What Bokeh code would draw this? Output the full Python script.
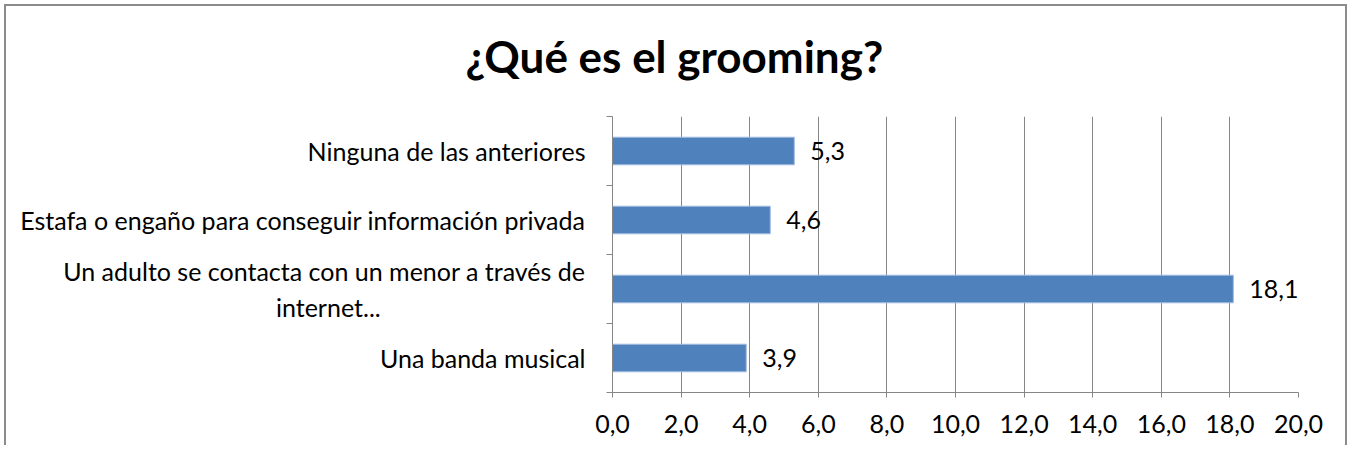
from bokeh.plotting import figure
from bokeh.models import Range1d, FixedTicker, ColumnDataSource, Title
from bokeh.core.properties import value
from bokeh.embed import file_html
from bokeh.resources import INLINE

title_text = "¿Qué es el grooming?"
# categories listed from top to bottom
categories = [
    "Ninguna de las anteriores",
    "Estafa o engaño para conseguir información privada",
    "Un adulto se contacta con un menor a través de\ninternet..." + "\u00a0" * 32,
    "Una banda musical",
]
values = [5.3, 4.6, 18.1, 3.9]
x_ticks = [0, 2, 4, 6, 8, 10, 12, 14, 16, 18, 20]

def fmt(v):
    return ("%.1f" % v).replace(".", ",")

n = len(categories)
ypos = [n - i - 0.5 for i in range(n)]
src = ColumnDataSource(dict(y=ypos, v=values, lab=[fmt(v) for v in values]))

FONT = "Lato"
FS = "25px"
W, H = 1343, 441
p = figure(width=W, height=H, output_backend="svg", toolbar_location=None,
           x_range=Range1d(0, 20), y_range=Range1d(0, n),
           min_border_left=606, min_border_right=51, min_border_top=110, min_border_bottom=55,
           styles={"border-left": "2px solid #8c8c8c", "border-top": "2px solid #8c8c8c",
                   "border-right": "2px solid #8c8c8c", "margin-left": "4px",
                   "margin-top": "4px"})
p.outline_line_color = None
p.background_fill_color = "white"
p.border_fill_color = "white"

p.hbar(y="y", right="v", left=0, height=0.4, source=src,
       fill_color="#4F81BD", line_color="#A3BDE0", line_width=1)
p.text(x="v", y="y", text="lab", source=src, x_offset=16,
       text_font=value(FONT), text_font_size=FS, text_color="black",
       text_baseline="middle", text_align="left")

# x axis
xa = p.xaxis[0]
xa.ticker = FixedTicker(ticks=x_ticks)
xa.major_label_overrides = {t: fmt(t) for t in x_ticks}
xa.axis_line_color = "#868686"
xa.major_tick_line_color = "#868686"
xa.major_tick_out = 5
xa.major_tick_in = 0
xa.minor_tick_line_color = None
xa.major_label_text_font = FONT
xa.major_label_text_font_size = FS
xa.major_label_text_color = "black"
xa.major_label_standoff = 17

# y axis: labels at centres, tick marks at category boundaries
ya = p.yaxis[0]
ya.ticker = FixedTicker(ticks=ypos, minor_ticks=list(range(n + 1)))
ya.major_label_overrides = {y: c for y, c in zip(ypos, categories)}
ya.axis_line_color = "#868686"
ya.major_tick_line_color = None
ya.major_tick_out = 0
ya.major_tick_in = 0
ya.minor_tick_line_color = "#868686"
ya.minor_tick_out = 6
ya.minor_tick_in = 0
ya.major_label_text_font = FONT
ya.major_label_text_font_size = FS
ya.major_label_text_color = "black"
ya.major_label_standoff = 21

p.xgrid.grid_line_color = "#868686"
p.xgrid.grid_line_width = 1
p.ygrid.grid_line_color = None

# blank spacer panel between the frame and the title
p.add_layout(Title(text=" ", text_font_size="1px", standoff=27), "above")
p.add_layout(Title(text=title_text, text_font=FONT, text_font_style="bold",
                   text_font_size="44px", text_color="black", align="left",
                   offset=-147, standoff=10), "above")

open("out.html", "w").write(file_html(p, INLINE))
